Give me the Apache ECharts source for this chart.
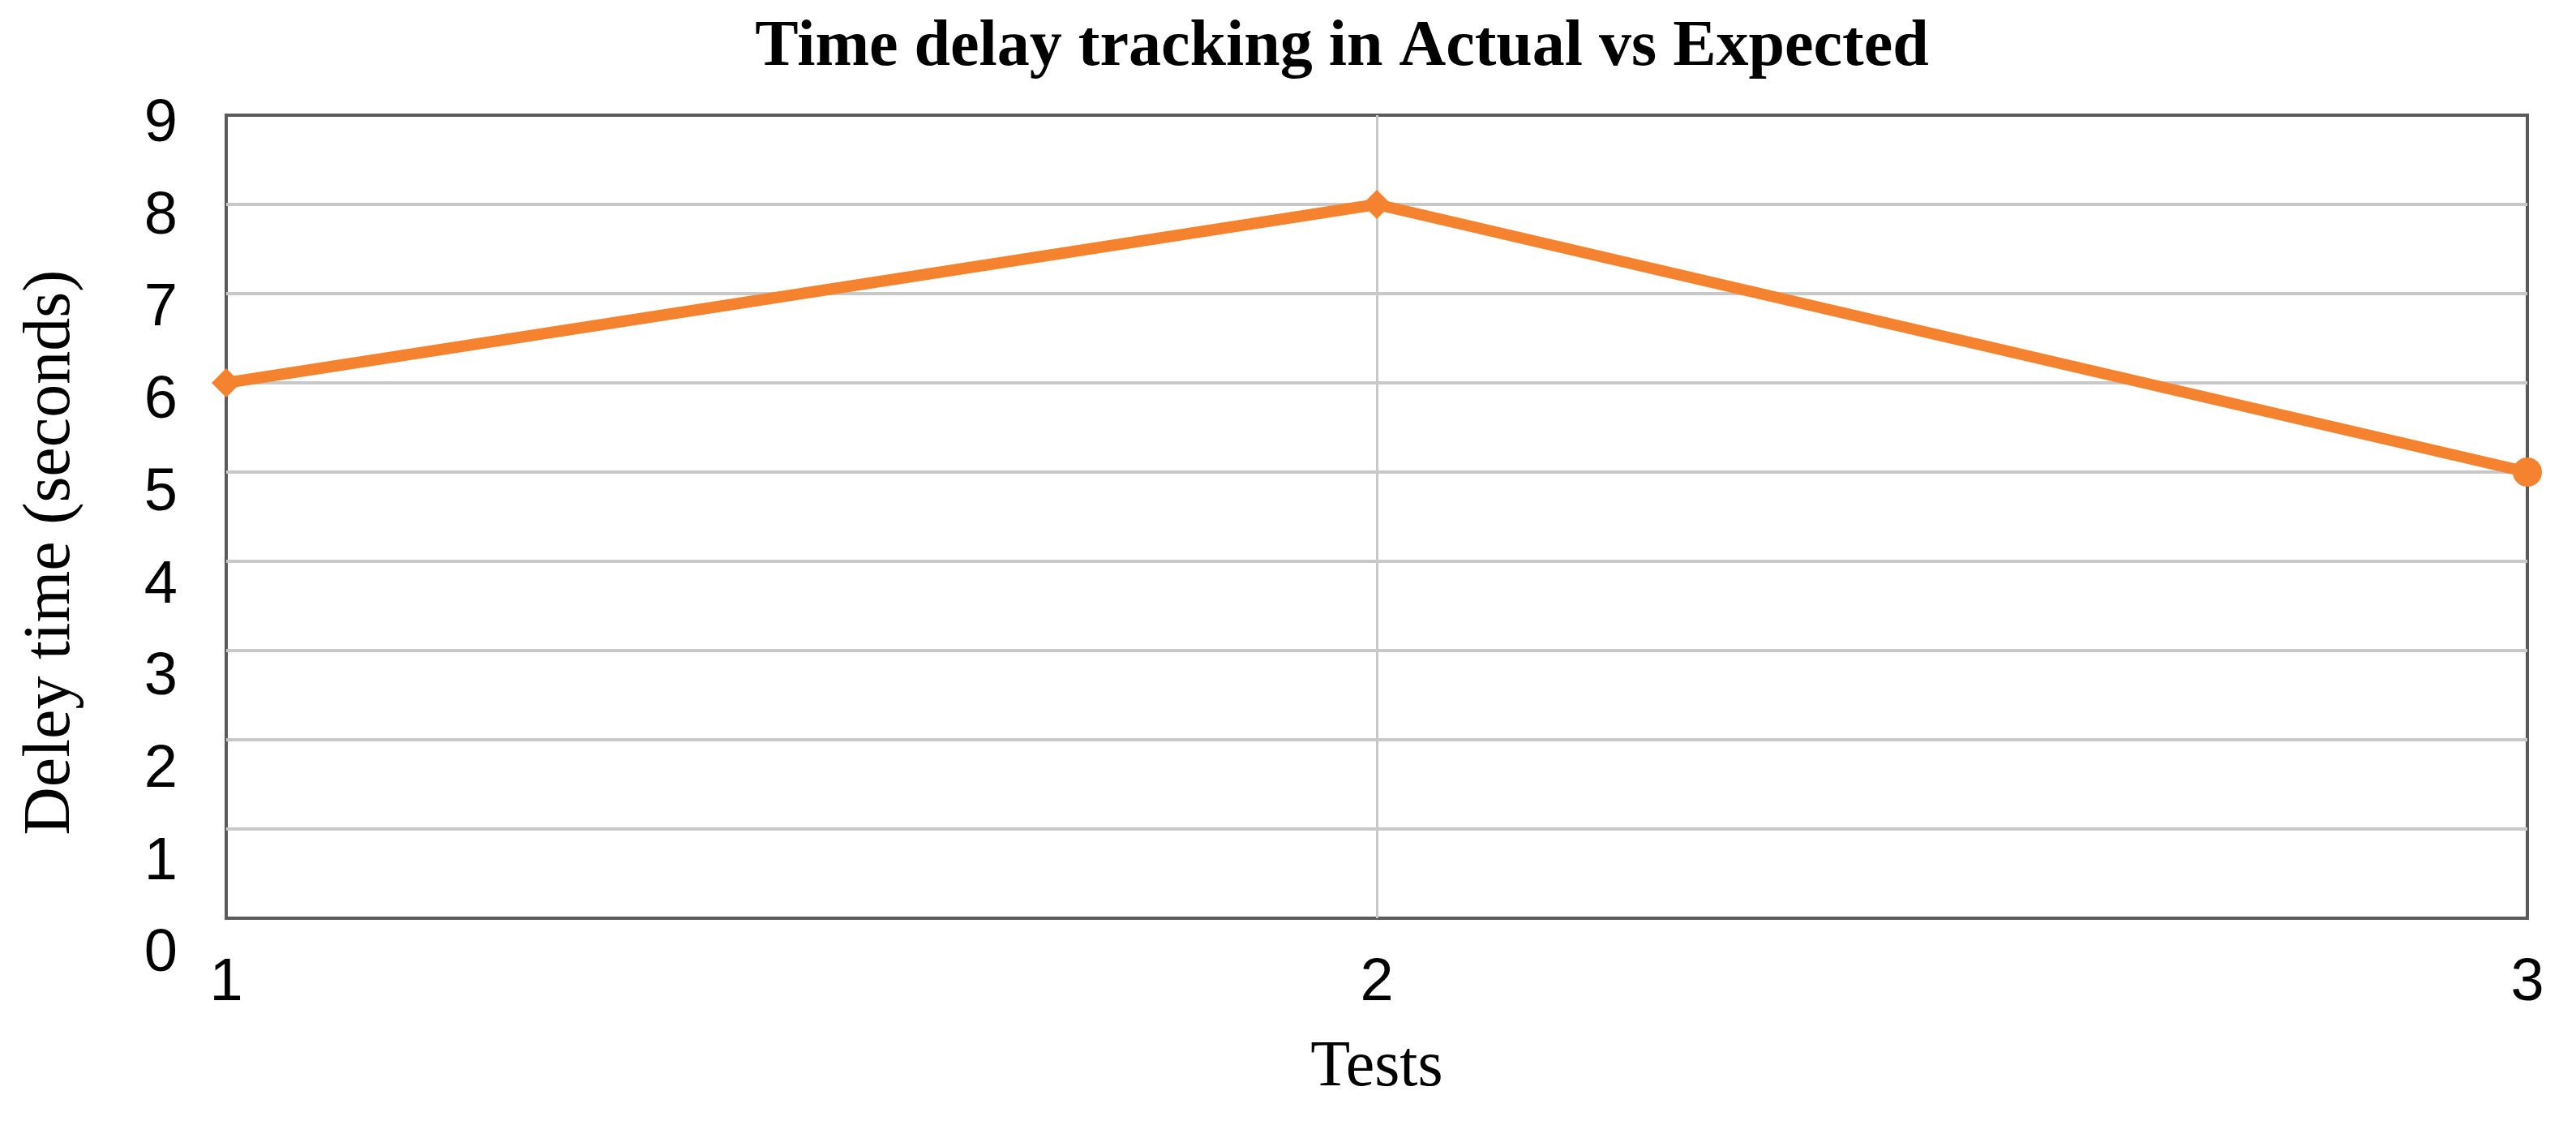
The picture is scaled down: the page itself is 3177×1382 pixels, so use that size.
<!DOCTYPE html>
<html>
<head>
<meta charset="utf-8">
<script src="https://cdn.jsdelivr.net/npm/echarts@6/dist/echarts.min.js"></script>
<style>
    html, body { margin: 0; padding: 0; background: #fff; }
    #chart { width: 3177px; height: 1382px; }
</style>
</head>
<body>
<div id="chart"></div>
<script>
const tests = ["1", "2", "3"];
const delay = [6, 8, 5];
const markers = ["diamond", "diamond", "circle"];
const yTicks = [0, 1, 2, 3, 4, 5, 6, 7, 8, 9];

const lineColor = "#F5822F";
const serif = "'Liberation Serif', 'Times New Roman', serif";
const sans = "'Liberation Sans', Arial, sans-serif";

// the y labels in the picture drift down a little more at every step
const labelRich = {};
yTicks.forEach(v => {
    const shift = Math.round(12 + (9 - v) * 3.7);
    labelRich["v"+v] = {
        fontFamily: sans,
        fontSize: 74,
        color: "#000",
        padding: [shift * 2, 0, 0, 0]
    };
});

const option = {
    animation: false,
    backgroundColor: "#fff",
    title: {
        text: "Time delay tracking in Actual vs Expected",
        left: 1650,
        top: 14,
        textAlign: "center",
        textStyle: {
            fontFamily: serif,
            fontWeight: "bold",
            fontSize: 80,
            color: "#000"
        }
    },
    grid: {
        left: 279,
        right: 60,
        top: 142,
        bottom: 250,
        show: true,
        borderColor: "#5a5a5a",
        borderWidth: 4
    },
    xAxis: {
        type: "category",
        data: tests,
        boundaryGap: false,
        name: "Tests",
        nameLocation: "middle",
        nameGap: 145,
        nameTextStyle: {
            fontFamily: serif,
            fontSize: 80,
            color: "#000"
        },
        axisLine: { show: false },
        axisTick: { show: false },
        axisLabel: {
            fontFamily: sans,
            fontSize: 74,
            color: "#000",
            margin: 44
        },
        splitLine: {
            show: true,
            showMinLine: false,
            showMaxLine: false,
            lineStyle: { color: "#c8c8c8", width: 3 }
        }
    },
    yAxis: {
        type: "value",
        min: 0,
        max: 9,
        interval: 1,
        name: "Deley time (seconds)",
        nameLocation: "middle",
        nameGap: 175,
        nameTextStyle: {
            fontFamily: serif,
            fontSize: 82,
            color: "#000",
            padding: [0, 88, 0, 0]
        },
        axisLine: { show: false },
        axisTick: { show: false },
        axisLabel: {
            margin: 60,
            formatter: v => `{v${v}|${v}}`,
            rich: labelRich
        },
        splitLine: {
            show: true,
            showMinLine: false,
            showMaxLine: false,
            lineStyle: { color: "#c8c8c8", width: 4 }
        }
    },
    series: [
        {
            name: "Delay",
            type: "line",
            data: delay.map((v, i) => ({ value: v, symbol: markers[i] })),
            symbolSize: 36,
            itemStyle: { color: lineColor },
            lineStyle: { color: lineColor, width: 14 },
            z: 5
        }
    ]
};

const chart = echarts.init(document.getElementById("chart"));
chart.setOption(option);
</script>
</body>
</html>
